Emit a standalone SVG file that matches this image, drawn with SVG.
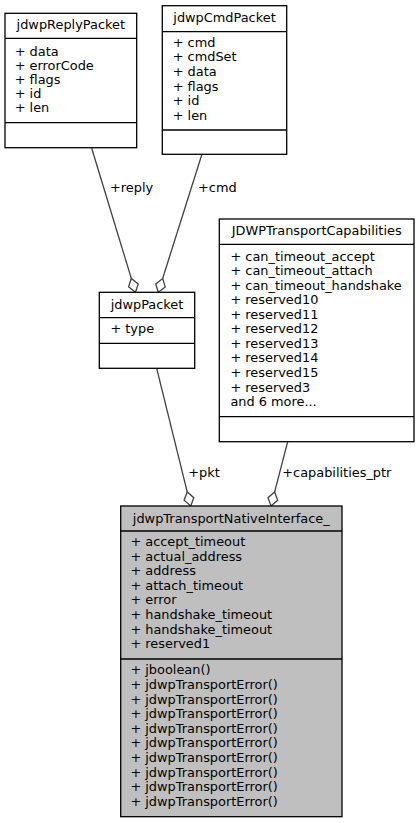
<svg xmlns="http://www.w3.org/2000/svg" width="419" height="823" viewBox="0 0 419 823">
<style>
.box{fill:#ffffff;stroke:#000000;stroke-width:1.3}
.main{fill:#bfbfbf;stroke:#000000;stroke-width:1.3}
.div{stroke:#000000;stroke-width:1.3}
.t{font-family:"DejaVu Sans",sans-serif;font-size:12.9px;fill:#000000}
.c{text-anchor:middle}
.edge{stroke:#404040;stroke-width:1.3;fill:none}
.dia{fill:#ffffff;stroke:#404040;stroke-width:1.3}
</style>
<rect width="419" height="823" fill="#ffffff"/>
<g id="connectors">
<path class="edge" d="M91.7,148.3 L131.3,278.4"/>
<polygon class="dia" points="135.5,292.3 138.18,283.9 131.3,278.4 128.6,286.8"/>
<text class="t" x="110" y="191.7">+reply</text>
<path class="edge" d="M201.7,155 L162.66,278.48"/>
<polygon class="dia" points="158.3,292.3 165.25,286.89 162.66,278.48 155.71,283.89"/>
<text class="t" x="198" y="191.7">+cmd</text>
<path class="edge" d="M156.7,368.3 L187.22,491.92"/>
<polygon class="dia" points="190.7,506 193.82,497.76 187.22,491.92 184.1,500.16"/>
<text class="t" x="188.3" y="476.5">+pkt</text>
<path class="edge" d="M287.7,441.7 L274.65,491.96"/>
<polygon class="dia" points="271,506 277.66,500.24 274.65,491.96 267.98,497.72"/>
<text class="t" x="282.3" y="476.5">+capabilities_ptr</text>
</g>
<g id="jdwpReplyPacket">
<rect class="box" x="5" y="13.3" width="131.7" height="134.4"/>
<line class="div" x1="5" y1="38.3" x2="136.7" y2="38.3"/>
<line class="div" x1="5" y1="122.7" x2="136.7" y2="122.7"/>
<text class="t c" x="70.8" y="29">jdwpReplyPacket</text>
<text class="t" x="14.7" y="55.5">+ data</text>
<text class="t" x="14.7" y="69.7">+ errorCode</text>
<text class="t" x="14.7" y="83.9">+ flags</text>
<text class="t" x="14.7" y="98.1">+ id</text>
<text class="t" x="14.7" y="112.3">+ len</text>
</g>
<g id="jdwpCmdPacket">
<rect class="box" x="162.3" y="5.7" width="124.4" height="148.6"/>
<line class="div" x1="162.3" y1="31.7" x2="286.7" y2="31.7"/>
<line class="div" x1="162.3" y1="130" x2="286.7" y2="130"/>
<text class="t c" x="224.5" y="21.5">jdwpCmdPacket</text>
<text class="t" x="172.7" y="46.7">+ cmd</text>
<text class="t" x="172.7" y="61.3">+ cmdSet</text>
<text class="t" x="172.7" y="75.9">+ data</text>
<text class="t" x="172.7" y="90.5">+ flags</text>
<text class="t" x="172.7" y="105.1">+ id</text>
<text class="t" x="172.7" y="119.7">+ len</text>
</g>
<g id="jdwpPacket">
<rect class="box" x="99.3" y="292.3" width="95.4" height="76"/>
<line class="div" x1="99.3" y1="317.7" x2="194.7" y2="317.7"/>
<line class="div" x1="99.3" y1="343.3" x2="194.7" y2="343.3"/>
<text class="t c" x="147" y="309.3">jdwpPacket</text>
<text class="t" x="110.4" y="332.7">+ type</text>
</g>
<g id="JDWPTransportCapabilities">
<rect class="box" x="219.3" y="219" width="194.7" height="222.7"/>
<line class="div" x1="219.3" y1="244.3" x2="414" y2="244.3"/>
<line class="div" x1="219.3" y1="416.7" x2="414" y2="416.7"/>
<text class="t c" x="316.7" y="235.3">JDWPTransportCapabilities</text>
<text class="t" x="230.4" y="260.7">+ can_timeout_accept</text>
<text class="t" x="230.4" y="275.2">+ can_timeout_attach</text>
<text class="t" x="230.4" y="289.8">+ can_timeout_handshake</text>
<text class="t" x="230.4" y="304.3">+ reserved10</text>
<text class="t" x="230.4" y="318.8">+ reserved11</text>
<text class="t" x="230.4" y="333.4">+ reserved12</text>
<text class="t" x="230.4" y="347.9">+ reserved13</text>
<text class="t" x="230.4" y="362.4">+ reserved14</text>
<text class="t" x="230.4" y="376.9">+ reserved15</text>
<text class="t" x="230.4" y="391.5">+ reserved3</text>
<text class="t" x="230.4" y="406">and 6 more...</text>
</g>
<g id="jdwpTransportNativeInterface_">
<rect class="main" x="120.7" y="506" width="221.3" height="310.7"/>
<line class="div" x1="120.7" y1="531" x2="342" y2="531"/>
<line class="div" x1="120.7" y1="659" x2="342" y2="659"/>
<text class="t c" x="231.3" y="522.7">jdwpTransportNativeInterface_</text>
<text class="t" x="130.4" y="546">+ accept_timeout</text>
<text class="t" x="130.4" y="560.6">+ actual_address</text>
<text class="t" x="130.4" y="575.2">+ address</text>
<text class="t" x="130.4" y="589.8">+ attach_timeout</text>
<text class="t" x="130.4" y="604.4">+ error</text>
<text class="t" x="130.4" y="619">+ handshake_timeout</text>
<text class="t" x="130.4" y="633.6">+ handshake_timeout</text>
<text class="t" x="130.4" y="648.2">+ reserved1</text>
<text class="t" x="130.4" y="674.3">+ jboolean()</text>
<text class="t" x="130.4" y="688.9">+ jdwpTransportError()</text>
<text class="t" x="130.4" y="703.5">+ jdwpTransportError()</text>
<text class="t" x="130.4" y="718.1">+ jdwpTransportError()</text>
<text class="t" x="130.4" y="732.7">+ jdwpTransportError()</text>
<text class="t" x="130.4" y="747.3">+ jdwpTransportError()</text>
<text class="t" x="130.4" y="761.9">+ jdwpTransportError()</text>
<text class="t" x="130.4" y="776.5">+ jdwpTransportError()</text>
<text class="t" x="130.4" y="791.1">+ jdwpTransportError()</text>
<text class="t" x="130.4" y="805.7">+ jdwpTransportError()</text>
</g>
</svg>
